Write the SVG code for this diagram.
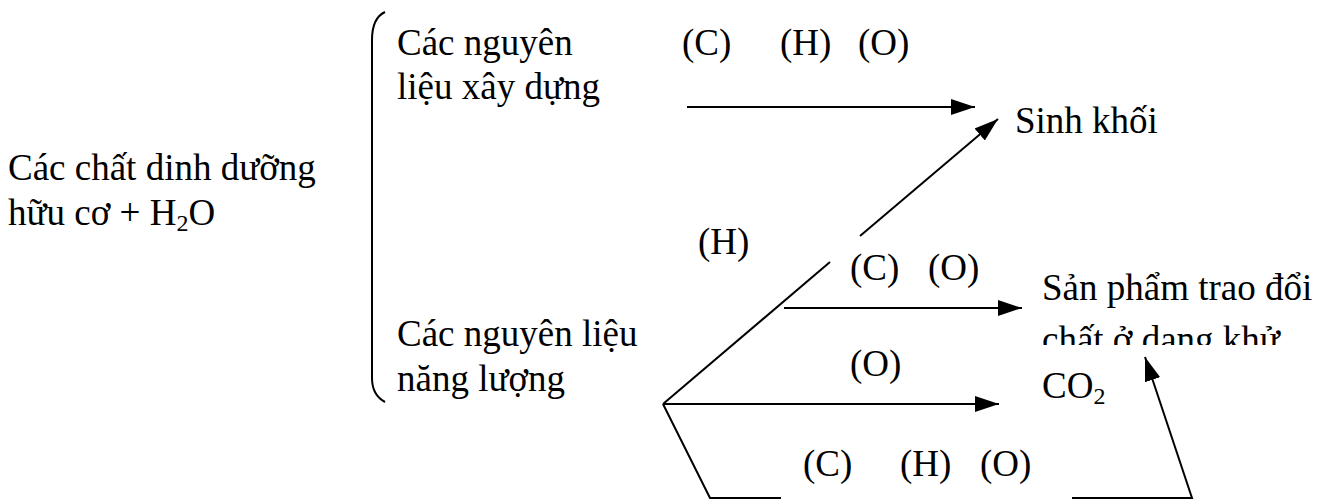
<svg xmlns="http://www.w3.org/2000/svg" width="1331" height="499" viewBox="0 0 1331 499">
<style>
text{font-family:"Liberation Serif","Times New Roman",serif;font-size:37px;fill:#000}
.ln{fill:none;stroke:#000;stroke-width:2}
</style>
<defs>
<marker id="ah" markerUnits="userSpaceOnUse" markerWidth="30" markerHeight="30" refX="24" refY="12" orient="auto">
<path d="M0,4 L24,12 L0,20 Z" fill="#000"/>
</marker>
<clipPath id="clipK"><rect x="1030" y="310" width="290" height="35"/></clipPath>
</defs>
<rect width="1331" height="499" fill="#fff"/>
<g id="connectors">
<path class="ln" d="M385,12 Q372,18 372,40 L372,378 Q372,395 385,402"/>
<line class="ln" x1="687" y1="107" x2="975" y2="107" marker-end="url(#ah)"/>
<line class="ln" x1="663" y1="404" x2="830" y2="262"/>
<line class="ln" x1="860" y1="236" x2="998" y2="119" marker-end="url(#ah)"/>
<line class="ln" x1="784" y1="308" x2="1022" y2="308" marker-end="url(#ah)"/>
<line class="ln" x1="663" y1="404" x2="999" y2="404" marker-end="url(#ah)"/>
<polyline class="ln" points="663,404 710,498 781,498"/>
<polyline class="ln" points="1072,498 1192,498 1145,357" marker-end="url(#ah)"/>
</g>
<g id="source"><text x="8" y="180">Các chất dinh dưỡng</text><text x="8" y="225">hữu cơ + H<tspan font-size="24" dy="6">2</tspan><tspan dy="-6">O</tspan></text></g>
<g id="build"><text x="397" y="55">Các nguyên</text><text x="397" y="99">liệu xây dựng</text></g>
<g id="energy"><text x="397" y="346">Các nguyên liệu</text><text x="397" y="391">năng lượng</text></g>
<g id="labels-top"><text x="682" y="55">(C)</text><text x="780" y="55">(H)</text><text x="858" y="55">(O)</text></g>
<g id="biomass"><text x="1015" y="133">Sinh khối</text></g>
<g id="labels-mid"><text x="698" y="254">(H)</text><text x="850" y="280">(C)</text><text x="928" y="280">(O)</text><text x="850" y="376">(O)</text></g>
<g id="product"><text x="1042" y="300">Sản phẩm trao đổi</text><text x="1042" y="352" clip-path="url(#clipK)">chất ở dạng khử</text></g>
<g id="co2"><text x="1042" y="398">CO<tspan font-size="24" dy="6">2</tspan></text></g>
<g id="labels-bottom"><text x="803" y="476">(C)</text><text x="900" y="476">(H)</text><text x="980" y="476">(O)</text></g>
</svg>
